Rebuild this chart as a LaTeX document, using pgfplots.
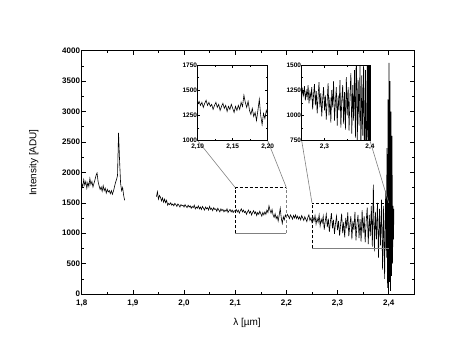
\documentclass[border=0pt]{standalone}
\usepackage{pgfplots}
\pgfplotsset{compat=1.18}
\usepackage{pgfplotstable}
\usepackage{fontspec}
\setmainfont{Liberation Sans}

\pgfplotstableread{
x y
1.800 1820
1.802 1760
1.804 1880
1.806 1790
1.808 1850
1.810 1740
1.812 1830
1.814 1770
1.816 1900
1.818 1800
1.820 1850
1.822 1760
1.824 1820
1.826 1880
1.828 1950
1.830 1990
1.832 1850
1.834 1780
1.836 1720
1.838 1760
1.840 1690
1.842 1780
1.844 1700
1.846 1740
1.848 1660
1.850 1720
1.852 1680
1.854 1700
1.856 1650
1.858 1700
1.860 1640
1.862 1690
1.864 1760
1.866 1830
1.868 1880
1.870 1950
1.872 2650
1.874 2200
1.876 1820
1.878 1700
1.880 1750
1.882 1620
1.884 1540
1.915 nan
1.946 1600
1.948 1680
1.950 1560
1.952 1620
1.954 1590
1.956 1530
1.958 1580
1.960 1510
1.962 1560
1.964 1500
1.966 1540
1.968 1460
1.970 1490
1.972 1470
1.974 1500
1.976 1460
1.978 1480
1.980 1450
1.982 1490
1.984 1470
1.986 1440
1.988 1480
1.990 1460
1.992 1430
1.994 1470
1.996 1450
1.998 1460
2.000 1430
2.002 1470
2.004 1440
2.006 1420
2.008 1460
2.010 1430
2.012 1450
2.014 1410
2.016 1440
2.018 1420
2.020 1460
2.022 1400
2.024 1430
2.026 1410
2.028 1450
2.030 1400
2.032 1430
2.034 1390
2.036 1440
2.038 1410
2.040 1380
2.042 1430
2.044 1400
2.046 1420
2.048 1380
2.050 1440
2.052 1390
2.054 1410
2.056 1370
2.058 1420
2.060 1390
2.062 1400
2.064 1360
2.066 1410
2.068 1380
2.070 1350
2.072 1400
2.074 1370
2.076 1390
2.078 1350
2.080 1380
2.082 1360
2.084 1400
2.086 1340
2.088 1370
2.090 1390
2.092 1350
2.094 1380
2.096 1340
2.098 1370
2.100 1360
2.102 1390
2.104 1350
2.106 1380
2.108 1330
2.110 1370
2.112 1400
2.114 1350
2.116 1380
2.118 1340
2.120 1360
2.122 1310
2.124 1350
2.126 1380
2.128 1330
2.130 1360
2.132 1300
2.134 1340
2.136 1370
2.138 1320
2.140 1350
2.142 1290
2.144 1340
2.146 1310
2.148 1360
2.150 1320
2.152 1280
2.154 1340
2.156 1300
2.158 1350
2.160 1310
2.162 1380
2.164 1340
2.166 1450
2.168 1380
2.170 1330
2.172 1390
2.174 1300
2.176 1260
2.178 1320
2.180 1240
2.182 1280
2.184 1200
2.186 1300
2.188 1410
2.190 1250
2.192 1160
2.194 1270
2.196 1220
2.198 1300
2.200 1260
2.202 1310
2.204 1280
2.206 1240
2.208 1300
2.210 1270
2.212 1230
2.214 1290
2.216 1250
2.218 1300
2.220 1240
2.222 1280
2.224 1230
2.226 1270
2.228 1220
2.230 1290
2.232 1250
2.234 1210
2.236 1270
2.238 1230
2.240 1190
2.242 1260
2.244 1300
2.246 1210
2.248 1250
2.250 1180
2.252 1260
2.254 1200
2.256 1290
2.258 1150
2.260 1240
2.262 1180
2.264 1300
2.266 1120
2.268 1230
2.270 1170
2.272 1280
2.274 1060
2.276 1200
2.278 1310
2.280 1100
2.282 1240
2.284 1020
2.286 1190
2.288 1330
2.290 1080
2.292 1220
2.294 990
2.296 1160
2.298 1280
2.300 1050
2.302 1200
2.304 960
2.306 1150
2.308 1320
2.310 1000
2.312 1180
2.314 930
2.316 1250
2.318 1080
2.320 1340
2.322 950
2.324 1130
2.326 1280
2.328 900
2.330 1200
2.332 1050
2.334 1350
2.336 880
2.338 1150
2.340 1300
2.342 920
2.344 1230
2.346 860
2.348 1380
2.350 1000
2.352 1280
2.354 850
2.356 1200
2.358 1420
2.360 820
2.362 1300
2.364 950
2.366 1450
2.368 780
2.370 1800
2.372 700
2.374 1350
2.376 900
2.378 1500
2.380 600
2.382 1400
2.384 800
2.386 1550
2.388 400
2.390 1450
2.392 250
2.394 1700
2.3955 600
2.3965 2400
2.3975 100
2.3985 3200
2.3995 0
2.4005 3800
2.4015 200
2.4025 3500
2.4035 50
2.4045 3000
2.4055 300
2.4065 2600
2.4075 500
2.4085 1450
2.4095 900
2.4100 1400
}\spec

\pgfplotsset{
  every axis/.append style={
    /pgf/number format/assume math mode=true,
    tick align=inside,
    axis line style={line width=0.6pt},
    every tick/.style={black, line width=0.5pt},
  },
}

\begin{document}
\begin{tikzpicture}
\useasboundingbox (-81.7pt,-63pt) rectangle (381.3pt,294pt);
\begin{axis}[
  at={(0pt,0pt)}, anchor=south west,
  scale only axis, width=332.6pt, height=243.3pt,
  xmin=1.8, xmax=2.45, ymin=0, ymax=4000,
  xtick={1.8,1.9,2.0,2.1,2.2,2.3,2.4},
  minor xtick={1.85,1.95,2.05,2.15,2.25,2.35,2.45},
  ytick={0,500,1000,1500,2000,2500,3000,3500,4000},
  minor y tick num=1,
  major tick length=4pt, minor tick length=2.5pt,
  unbounded coords=jump,
  ticklabel style={font=\bfseries\fontsize{8}{8}\selectfont},
  yticklabel style={inner sep=1.5pt},
  xticklabel style={yshift=-2pt, /pgf/number format/.cd, use comma, fixed, fixed zerofill, precision=1},
  yticklabel style={/pgf/number format/.cd, 1000 sep={}},
  xlabel={λ [µm]}, ylabel={Intensity [ADU]},
  label style={font=\fontsize{9.5}{10}\selectfont},
  every axis x label/.style={at={(axis description cs:0.497,-0.119)}, anchor=center},
  every axis y label/.style={at={(axis description cs:-0.144,0.54)}, rotate=90, anchor=center},
]
\addplot[black, line width=0.6pt] table {\spec};
\draw[densely dashed, line width=0.5pt] (axis cs:2.1,1000) -- (axis cs:2.1,1750) -- (axis cs:2.2,1750);
\draw[gray, line width=0.6pt] (axis cs:2.1,1000) -- (axis cs:2.2,1000);
\draw[gray, densely dashed, line width=0.6pt] (axis cs:2.2,1000) -- (axis cs:2.2,1750);
\draw[densely dashed, line width=0.5pt] (axis cs:2.25,750) -- (axis cs:2.25,1500) -- (axis cs:2.4,1500);
\draw[gray, line width=0.6pt] (axis cs:2.25,750) -- (axis cs:2.4,750);
\coordinate (b1l) at (axis cs:2.1,1750);
\coordinate (b1r) at (axis cs:2.2,1750);
\coordinate (b2l) at (axis cs:2.25,1500);
\coordinate (b2r) at (axis cs:2.4,1500);
\end{axis}
\draw[gray, line width=0.6pt] (b1l) -- (116pt,153.3pt);
\draw[gray, line width=0.6pt] (b1r) -- (186pt,153.3pt);
\draw[gray, line width=0.6pt] (b2l) -- (220pt,153.3pt);
\draw[gray, line width=0.6pt] (b2r) -- (288.3pt,153.3pt);

\begin{axis}[
  at={(116pt,153.3pt)}, anchor=south west,
  scale only axis, width=70pt, height=75.7pt,
  xmin=2.1, xmax=2.2, ymin=1000, ymax=1750,
  axis background/.style={fill=white},
  xtick={2.1,2.15,2.2}, minor x tick num=1,
  ytick={1000,1250,1500,1750}, minor y tick num=1,
  major tick length=2.5pt, minor tick length=1.5pt,
  ticklabel style={font=\bfseries\fontsize{6.5}{6.5}\selectfont},
  xticklabel style={/pgf/number format/.cd, use comma, fixed, fixed zerofill, precision=2},
  yticklabel style={inner sep=0.5pt, /pgf/number format/.cd, 1000 sep={}},
]
\addplot[black, line width=0.6pt] table {\spec};
\end{axis}

\begin{axis}[
  at={(220pt,153.3pt)}, anchor=south west,
  scale only axis, width=68.3pt, height=75.7pt,
  xmin=2.25, xmax=2.4, ymin=750, ymax=1500,
  axis background/.style={fill=white},
  xtick={2.3,2.4}, minor xtick={2.25,2.35},
  ytick={750,1000,1250,1500}, minor y tick num=1,
  major tick length=2.5pt, minor tick length=1.5pt,
  ticklabel style={font=\bfseries\fontsize{6.5}{6.5}\selectfont},
  xticklabel style={/pgf/number format/.cd, use comma, fixed, fixed zerofill, precision=1},
  yticklabel style={inner sep=0.5pt, /pgf/number format/.cd, 1000 sep={}},
]
\addplot[black, line width=0.6pt] table {\spec};
\end{axis}
\end{tikzpicture}
\end{document}
